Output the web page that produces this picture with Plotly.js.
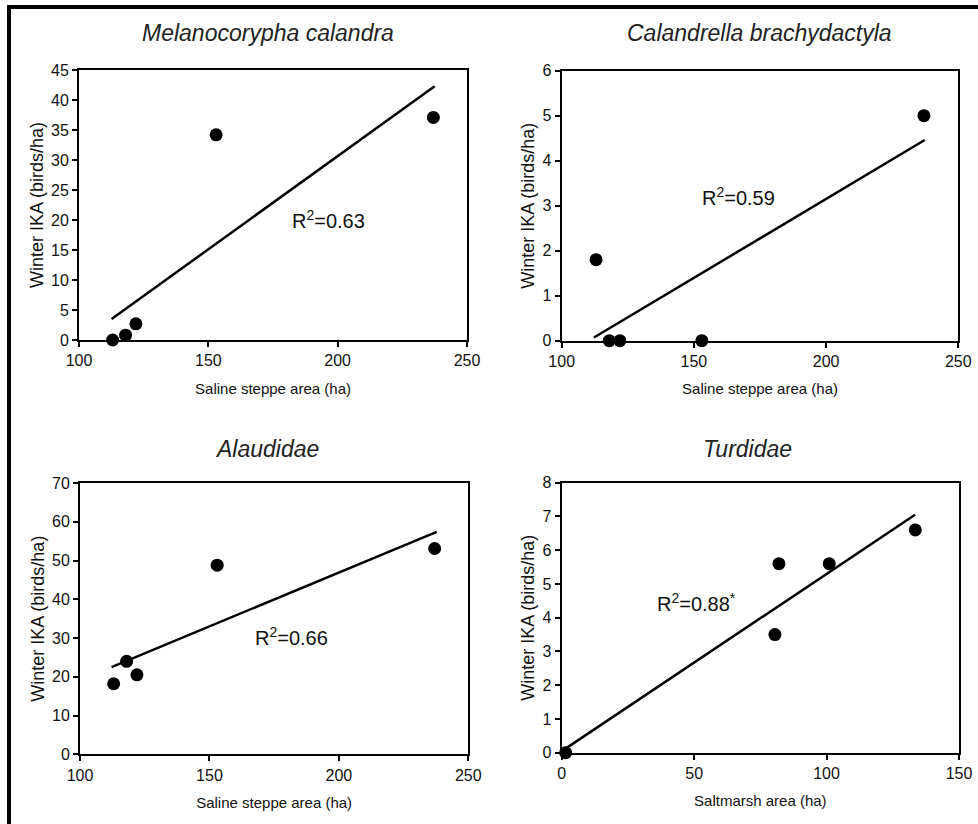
<!DOCTYPE html>
<html>
<head>
<meta charset="utf-8">
<script src="https://cdn.plot.ly/plotly-3.0.1.min.js"></script>
<style>
html,body{margin:0;padding:0;background:#fff;}
#chart{width:978px;height:824px;}
</style>
</head>
<body>
<div id="chart"></div>
<script>
// ---- Data ----
const steppeArea   = [113, 118, 122, 153, 237];
const calandraIKA  = [0, 0.8, 2.7, 34.2, 37.1];
const brachyIKA    = [1.8, 0, 0, 0, 5.0];
const alaudidaeIKA = [18.2, 24.0, 20.5, 48.8, 53.1];
const saltmarshArea = [1.5, 80.5, 82, 101, 133.5];
const turdidaeIKA   = [0, 3.5, 5.6, 5.6, 6.6];

// fitted trend lines (end points)
const trendCalandraX = [112.6, 237.5], trendCalandraY = [3.5, 42.3];
const trendBrachyX   = [112.2, 237.3], trendBrachyY   = [0.07, 4.46];
const trendAlaudX    = [112.2, 237.8], trendAlaudY    = [22.5, 57.4];
const trendTurdX     = [0.9, 133.4],   trendTurdY     = [0.09, 7.05];

const panelTitles = ['Melanocorypha calandra', 'Calandrella brachydactyla', 'Alaudidae', 'Turdidae'];
const r2Labels = ['R<sup>2</sup>=0.63', 'R<sup>2</sup>=0.59', 'R<sup>2</sup>=0.66', 'R<sup>2</sup>=0.88<sup>*</sup>'];
const xTitles = ['Saline steppe area (ha)', 'Saline steppe area (ha)', 'Saline steppe area (ha)', 'Saltmarsh area (ha)'];
const yTitle = 'Winter IKA (birds/ha)';

// ---- Layout helpers ----
const W = 978, H = 824;
const FONT = 'Liberation Sans, Arial, sans-serif';
function dx(a, b) { return [a / W, b / W]; }
function dy(top, bottom) { return [1 - bottom / H, 1 - top / H]; }

function xaxis(domain, range, dtick, anchor, title) {
  return {
    domain: domain, range: range, dtick: dtick, tick0: range[0], anchor: anchor,
    showgrid: false, zeroline: false, showline: true, mirror: true,
    linecolor: '#000', linewidth: 2, ticks: 'outside', ticklen: 5, tickwidth: 2, tickcolor: '#000',
    tickfont: {family: FONT, size: 16, color: '#111'},
    title: {text: title, font: {family: FONT, size: 15, color: '#111'}, standoff: 15},
    fixedrange: true
  };
}
function yaxis(domain, range, dtick, anchor) {
  return {
    domain: domain, range: range, dtick: dtick, tick0: 0, anchor: anchor,
    showgrid: false, zeroline: false, showline: true, mirror: true,
    linecolor: '#000', linewidth: 2, ticks: 'outside', ticklen: 5, tickwidth: 2, tickcolor: '#000',
    tickfont: {family: FONT, size: 16, color: '#111'},
    title: {text: yTitle, font: {family: FONT, size: 18, color: '#111'}, standoff: 3},
    fixedrange: true
  };
}

function pts(x, y, xa, ya) {
  return {x: x, y: y, xaxis: xa, yaxis: ya, type: 'scatter', mode: 'markers',
          marker: {color: '#000', size: 13}, cliponaxis: false, showlegend: false, hoverinfo: 'x+y'};
}
function trend(x, y, xa, ya) {
  return {x: x, y: y, xaxis: xa, yaxis: ya, type: 'scatter', mode: 'lines',
          line: {color: '#000', width: 2.5}, showlegend: false, hoverinfo: 'skip'};
}

const data = [
  trend(trendCalandraX, trendCalandraY, 'x', 'y'),
  pts(steppeArea, calandraIKA, 'x', 'y'),
  trend(trendBrachyX, trendBrachyY, 'x2', 'y2'),
  pts(steppeArea, brachyIKA, 'x2', 'y2'),
  trend(trendAlaudX, trendAlaudY, 'x3', 'y3'),
  pts(steppeArea, alaudidaeIKA, 'x3', 'y3'),
  trend(trendTurdX, trendTurdY, 'x4', 'y4'),
  pts(saltmarshArea, turdidaeIKA, 'x4', 'y4')
];

const titlePos = [[268, 33], [759, 33], [267, 449], [747, 449]];
const r2Pos = [[181.6, 20, 'x', 'y'], [152.2, 3.2, 'x2', 'y2'], [167, 30.5, 'x3', 'y3'], [35.1, 4.46, 'x4', 'y4']];

const annotations = [];
panelTitles.forEach(function (t, i) {
  annotations.push({
    text: '<i>' + t + '</i>', xref: 'paper', yref: 'paper',
    x: titlePos[i][0] / W, y: 1 - titlePos[i][1] / H, xanchor: 'center', yanchor: 'middle',
    showarrow: false, font: {family: FONT, size: 23, color: '#222'}
  });
});
r2Labels.forEach(function (t, i) {
  const p = r2Pos[i];
  annotations.push({
    text: t, xref: p[2], yref: p[3], x: p[0], y: p[1], xanchor: 'left', yanchor: 'middle',
    showarrow: false, font: {family: FONT, size: 20, color: '#111'}
  });
});

const layout = {
  width: W, height: H,
  margin: {l: 0, r: 0, t: 0, b: 0},
  paper_bgcolor: '#fff', plot_bgcolor: '#fff',
  showlegend: false,
  xaxis:  xaxis(dx(79, 467),     [100, 250], 50, 'y',  xTitles[0]),
  yaxis:  yaxis(dy(70, 340),     [0, 45], 5, 'x'),
  xaxis2: xaxis(dx(561.7, 958.3), [100, 250], 50, 'y2', xTitles[1]),
  yaxis2: yaxis(dy(70.7, 340.7), [0, 6], 1, 'x2'),
  xaxis3: xaxis(dx(80, 468.3),   [100, 250], 50, 'y3', xTitles[2]),
  yaxis3: yaxis(dy(483, 754.3),  [0, 70], 10, 'x3'),
  xaxis4: xaxis(dx(561.7, 959),  [0, 150], 50, 'y4', xTitles[3]),
  yaxis4: yaxis(dy(482.7, 752.7), [0, 8], 1, 'x4'),
  annotations: annotations,
  shapes: [
    {type: 'line', xref: 'paper', yref: 'paper', x0: 9 / W, x1: 9 / W, y0: 0, y1: 1 - 5 / H,
     line: {color: '#000', width: 4}},
    {type: 'line', xref: 'paper', yref: 'paper', x0: 7 / W, x1: 1, y0: 1 - 7 / H, y1: 1 - 7 / H,
     line: {color: '#000', width: 4}}
  ]
};

Plotly.newPlot('chart', data, layout, {displayModeBar: false, staticPlot: true});
</script>
</body>
</html>
